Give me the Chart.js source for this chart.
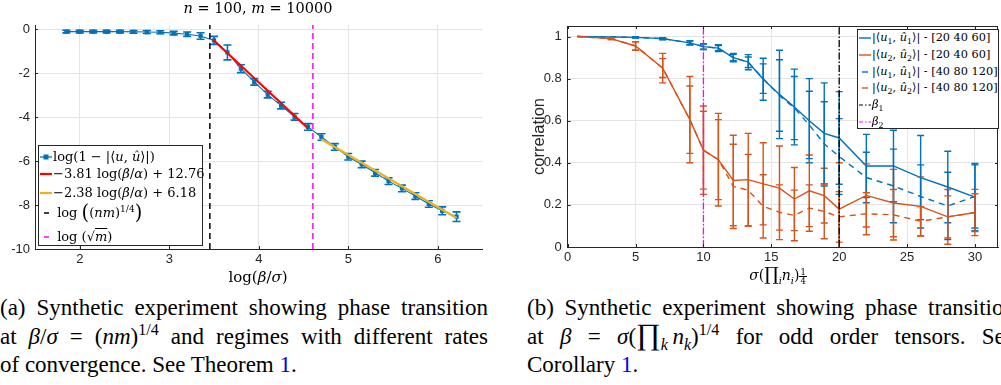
<!DOCTYPE html>
<html><head><meta charset="utf-8">
<script src="https://cdn.jsdelivr.net/npm/chart.js@4.4.1/dist/chart.umd.min.js"></script>
<style>
html,body{margin:0;padding:0;background:#fff;}
body{width:1001px;height:385px;overflow:hidden;position:relative;font-family:"Liberation Serif",serif;color:#000;}
canvas{position:absolute;top:0;}
.t{position:absolute;white-space:nowrap;font-family:"DejaVu Serif",serif;}
sub,sup{font-size:70%;line-height:0;}
.leg{position:absolute;background:#fff;border:1px solid #262626;box-sizing:border-box;font-family:"DejaVu Serif",serif;}
.row{position:absolute;left:0;height:18px;line-height:18px;white-space:nowrap;display:flex;align-items:center;}
.row svg{flex:none;}
.cap{position:absolute;width:488px;font-size:23px;line-height:28.5px;font-family:"Liberation Serif",serif;}
.cap div{height:28.5px;white-space:nowrap;}
.j{text-align:justify;text-align-last:justify;}
.lnk{color:#0000ee;}
.frac{display:inline-flex;flex-direction:column;align-items:center;font-size:60%;line-height:1;vertical-align:0.6em;}
.frac span:first-child{border-bottom:0.8px solid #000;padding:0 1px;}
.big{font-size:130%;line-height:0;}
</style></head>
<body>
<canvas id="cl" width="500" height="285" style="left:0;width:500px;height:285px"></canvas>
<canvas id="cr" width="501" height="285" style="left:500px;width:501px;height:285px"></canvas>

<!-- left chart texts -->
<div class="t" style="left:0;width:516px;text-align:center;top:-1px;font-size:14.5px;line-height:18px;"><i>n</i> = 100, <i>m</i> = 10000</div>
<div class="t" style="left:0;width:516px;text-align:center;top:268px;font-size:15px;line-height:18px;">log(<i>β</i>/<i>σ</i>)</div>

<div class="leg" style="left:38px;top:145px;width:165px;height:101px;font-size:13px;">
  <div class="row" style="top:2px"><svg width="14" height="10"><line x1="1" y1="5" x2="13" y2="5" stroke="#0072BD" stroke-width="1.3"/><rect x="4.5" y="2.5" width="5" height="5" fill="#0072BD"/></svg><span>log(1 − |⟨<i>u</i>, <i>û</i>⟩|)</span></div>
  <div class="row" style="top:19px"><svg width="14" height="10"><line x1="1" y1="5" x2="13" y2="5" stroke="#FF0000" stroke-width="2.2"/></svg><span>−3.81 log(<i>β</i>/<i>α</i>) + 12.76</span></div>
  <div class="row" style="top:38px"><svg width="14" height="10"><line x1="1" y1="5" x2="13" y2="5" stroke="#EDB120" stroke-width="2.2"/></svg><span>−2.38 log(<i>β</i>/<i>α</i>) + 6.18</span></div>
  <div class="row" style="top:58px"><svg width="14" height="10"><line x1="5" y1="5" x2="10" y2="5" stroke="#000" stroke-width="1.5"/></svg><span>&nbsp;log <span style="font-size:150%;vertical-align:-2px">(</span>(<i>nm</i>)<sup>1/4</sup><span style="font-size:150%;vertical-align:-2px">)</span></span></div>
  <div class="row" style="top:82px"><svg width="14" height="10"><line x1="5" y1="5" x2="10" y2="5" stroke="#FF00FF" stroke-width="1.5"/></svg><span>&nbsp;log (√<span style="text-decoration:overline"><i>m</i></span>)</span></div>
</div>

<!-- right chart texts -->
<div class="t" style="left:568px;width:420px;text-align:center;top:265px;font-size:14px;line-height:20px;"><i>σ</i>(<span class="big">∏</span><sub><i>i</i></sub><i>n<sub>i</sub></i>)<span class="frac"><span>1</span><span>4</span></span></div>

<div class="leg" style="left:857px;top:29px;width:142px;height:100px;font-size:11.3px;">
  <div class="row" style="top:-1px"><svg width="14" height="10"><line x1="1" y1="5" x2="13" y2="5" stroke="#0072BD" stroke-width="1.4"/></svg><span>|⟨<i>u</i><sub>1</sub>, <i>û</i><sub>1</sub>⟩| - [20 40 60]</span></div>
  <div class="row" style="top:15.5px"><svg width="14" height="10"><line x1="1" y1="5" x2="13" y2="5" stroke="#D95319" stroke-width="1.4"/></svg><span>|⟨<i>u</i><sub>2</sub>, <i>û</i><sub>2</sub>⟩| - [20 40 60]</span></div>
  <div class="row" style="top:32.5px"><svg width="14" height="10"><line x1="4" y1="5" x2="10" y2="5" stroke="#0072BD" stroke-width="1.4"/></svg><span>|⟨<i>u</i><sub>1</sub>, <i>û</i><sub>1</sub>⟩| - [40 80 120]</span></div>
  <div class="row" style="top:49px"><svg width="14" height="10"><line x1="4" y1="5" x2="10" y2="5" stroke="#D95319" stroke-width="1.4"/></svg><span>|⟨<i>u</i><sub>2</sub>, <i>û</i><sub>2</sub>⟩| - [40 80 120]</span></div>
  <div class="row" style="top:66px"><svg width="14" height="10"><line x1="1" y1="5" x2="13" y2="5" stroke="#000" stroke-width="1.2" stroke-dasharray="4 2 1.5 2"/></svg><span><i>β</i><sub>1</sub></span></div>
  <div class="row" style="top:82.5px"><svg width="14" height="10"><line x1="1" y1="5" x2="13" y2="5" stroke="#FF00FF" stroke-width="1.2" stroke-dasharray="4 2 1.5 2"/></svg><span><i>β</i><sub>2</sub></span></div>
</div>

<!-- captions -->
<div class="cap" style="left:0;top:294px;">
  <div class="j">(a) Synthetic experiment showing phase transition</div>
  <div class="j">at <i>β</i>/<i>σ</i> = (<i>nm</i>)<sup>1/4</sup> and regimes with different rates</div>
  <div>of convergence. See Theorem <span class="lnk">1</span>.</div>
</div>
<div class="cap" style="left:527px;top:294px;">
  <div class="j">(b) Synthetic experiment showing phase transition</div>
  <div class="j">at <i>β</i> = <i>σ</i>(<span class="big">∏</span><sub><i>k</i></sub>&thinsp;<i>n<sub>k</sub></i>)<sup>1/4</sup> for odd order tensors. See</div>
  <div>Corollary <span class="lnk">1</span>.</div>
</div>

<script>
// ---------- Left panel data (n = 100, m = 10000) ----------
const leftX   = [1.85,2.00,2.15,2.30,2.45,2.60,2.75,2.90,3.05,3.20,3.35,3.50,3.65,3.80,3.95,4.10,4.25,4.40,4.55,4.70,4.85,5.00,5.15,5.30,5.45,5.60,5.75,5.90,6.05,6.21];
const leftY   = [-0.10,-0.10,-0.10,-0.10,-0.10,-0.11,-0.12,-0.13,-0.17,-0.22,-0.30,-0.50,-1.05,-1.79,-2.39,-2.97,-3.47,-3.98,-4.44,-4.90,-5.35,-5.80,-6.15,-6.53,-6.91,-7.24,-7.59,-7.95,-8.26,-8.53];
const leftErr = [0.06,0.06,0.06,0.06,0.06,0.06,0.07,0.07,0.08,0.10,0.15,0.18,0.34,0.18,0.15,0.15,0.15,0.15,0.15,0.15,0.15,0.15,0.15,0.15,0.15,0.15,0.15,0.15,0.18,0.22];
const redFitX = [3.49, 4.55];
const redFitY = [-0.47, -4.50];
const yelFitX = [4.70, 6.21];
const yelFitY = [-5.00, -8.59];
const leftVLines = [3.454, 4.605];   // log((nm)^{1/4}), log(sqrt(m))
const leftYRange = [-10, 0.2];
const leftXTicks = [2,3,4,5,6];
const leftYTicks = [-10,-8,-6,-4,-2,0];

// ---------- Right panel data ----------
const rightX      = [0.7,3.2,5,7,9,10,11.1,12.2,13.3,14.4,15.6,16.7,17.8,18.9,20,22,24,26,28,30];
const blueSolid   = [1.0,0.998,0.996,0.99,0.97,0.952,0.945,0.90,0.878,0.797,0.725,0.665,0.60,0.54,0.518,0.385,0.385,0.33,0.285,0.237];
const blueSolidE  = [0,0,0.003,0.005,0.01,0.014,0.016,0.02,0.036,0.10,0.21,0.18,0.20,0.24,0.22,0.15,0.17,0.20,0.17,0.16];
const orangeSolid = [1.0,0.99,0.955,0.85,0.605,0.46,0.415,0.316,0.32,0.30,0.28,0.228,0.267,0.244,0.18,0.245,0.209,0.193,0.143,0.164];
const orangeSolidE= [0,0.004,0.02,0.07,0.205,0.21,0.22,0.215,0.22,0.195,0.20,0.15,0.17,0.13,0.22,0.15,0.16,0.14,0.13,0.11];
const blueDash    = [1.0,0.998,0.996,0.99,0.97,0.952,0.945,0.90,0.878,0.80,0.72,0.66,0.58,0.49,0.43,0.33,0.29,0.24,0.195,0.24];
const blueDashE   = [0,0,0.002,0.004,0.008,0.012,0.012,0.015,0.025,0.07,0.17,0.15,0.16,0.20,0.18,0.12,0.175,0.15,0.16,0.15];
const orangeDash  = [1.0,0.99,0.955,0.85,0.605,0.46,0.415,0.288,0.27,0.193,0.165,0.15,0.185,0.169,0.143,0.158,0.153,0.122,0.143,0.163];
const orangeDashE = [0,0.004,0.02,0.045,0.16,0.185,0.19,0.20,0.17,0.15,0.13,0.12,0.11,0.13,0.12,0.10,0.12,0.07,0.10,0.09];
const betaLines   = [20, 10];  // beta1, beta2
const rightYRange = [0, 1.05];
const rightXRange = [0, 31.7];
const rightXTicks = [0,5,10,15,20,25,30];
const rightYTicks = [0,0.2,0.4,0.6,0.8,1];

// ---------- helpers ----------
const AX = '#262626', GRID = '#e4e4e4';
const BLUE = '#0072BD', ORANGE = '#D95319', RED = '#FF0000', YEL = '#EDB120', MAG = '#FF00FF';
const pts = (xs, ys) => xs.map((x, i) => ({x, y: ys[i]}));

const errorBars = {
  id: 'errorBars',
  afterDatasetDraw(chart, args) {
    const ds = chart.data.datasets[args.index];
    if (!ds.errors) return;
    const {ctx, chartArea: a, scales: {x, y}} = chart;
    ctx.save();
    ctx.beginPath(); ctx.rect(a.left, a.top - 1, a.right - a.left, a.bottom - a.top + 1); ctx.clip();
    ctx.strokeStyle = ds.borderColor; ctx.lineWidth = ds.errWidth || 1.4; ctx.setLineDash([]);
    const cap = ds.capHalf || 3.5;
    ds.data.forEach((p, i) => {
      const e = ds.errors[i]; if (!e) return;
      const px = x.getPixelForValue(p.x);
      const y1 = y.getPixelForValue(p.y - e), y2 = y.getPixelForValue(p.y + e);
      ctx.beginPath();
      ctx.moveTo(px, y1); ctx.lineTo(px, y2);
      ctx.moveTo(px - cap, y1); ctx.lineTo(px + cap, y1);
      ctx.moveTo(px - cap, y2); ctx.lineTo(px + cap, y2);
      ctx.stroke();
    });
    ctx.restore();
  }
};

const frame = {
  id: 'frame',
  afterDraw(chart, args, opts) {
    const {ctx, chartArea: a, scales: {x, y}} = chart;
    ctx.save();
    ctx.strokeStyle = AX; ctx.lineWidth = 1;
    ctx.beginPath();
    if (opts.box) {
      ctx.moveTo(a.left, a.top + 0.5); ctx.lineTo(a.right, a.top + 0.5);
      ctx.moveTo(a.right - 0.5, a.top); ctx.lineTo(a.right - 0.5, a.bottom);
    }
    const L = 3;
    x.ticks.forEach(t => {
      const px = Math.round(x.getPixelForValue(t.value)) + 0.5;
      ctx.moveTo(px, a.bottom); ctx.lineTo(px, a.bottom - L);
      if (opts.box) { ctx.moveTo(px, a.top); ctx.lineTo(px, a.top + L); }
    });
    y.ticks.forEach(t => {
      const py = Math.round(y.getPixelForValue(t.value)) + 0.5;
      ctx.moveTo(a.left, py); ctx.lineTo(a.left + L, py);
      if (opts.box) { ctx.moveTo(a.right, py); ctx.lineTo(a.right - L, py); }
    });
    ctx.stroke();
    ctx.restore();
  }
};

const tickFont = {family: "'Liberation Sans', Arial, sans-serif", size: 13};
function fixSize(w, h) { return s => { if (w != null) s.width = w; if (h != null) s.height = h; }; }

// ---------- Left chart ----------
new Chart(document.getElementById('cl'), {
  type: 'line',
  data: {
    datasets: [
      {label: 'log(√m)', data: [{x: leftVLines[1], y: leftYRange[0]}, {x: leftVLines[1], y: leftYRange[1]}],
       borderColor: MAG, borderWidth: 1.5, borderDash: [6, 4], pointRadius: 0, order: 1},
      {label: 'log((nm)^1/4)', data: [{x: leftVLines[0], y: leftYRange[0]}, {x: leftVLines[0], y: leftYRange[1]}],
       borderColor: '#000', borderWidth: 1.5, borderDash: [6, 4], pointRadius: 0, order: 2},
      {label: '−2.38 log(β/α) + 6.18', data: pts(yelFitX, yelFitY), borderColor: YEL, borderWidth: 2.2, pointRadius: 0, order: 3},
      {label: '−3.81 log(β/α) + 12.76', data: pts(redFitX, redFitY), borderColor: RED, borderWidth: 2.2, pointRadius: 0, order: 4},
      {label: 'log(1 − |⟨u, û⟩|)', data: pts(leftX, leftY), errors: leftErr, errWidth: 1.6, capHalf: 4,
       borderColor: BLUE, backgroundColor: BLUE, borderWidth: 1.1, pointStyle: 'rect', pointRadius: 2.2, order: 5}
    ]
  },
  options: {
    responsive: false, animation: false, devicePixelRatio: 1,
    layout: {padding: {left: 0, top: 25, right: 17.5, bottom: 0}},
    plugins: {legend: {display: false}, tooltip: {enabled: false}, frame: {box: false}},
    scales: {
      x: {type: 'linear', min: 1.5, max: 6.5,
          afterFit: fixSize(null, 36),
          afterBuildTicks: s => { s.ticks = leftXTicks.map(v => ({value: v})); },
          ticks: {font: tickFont, color: AX, padding: 3, maxRotation: 0, callback: v => String(v)},
          grid: {color: GRID, drawTicks: false}, border: {color: AX, width: 1}},
      y: {type: 'linear', min: leftYRange[0], max: leftYRange[1],
          afterFit: fixSize(35, null),
          afterBuildTicks: s => { s.ticks = leftYTicks.map(v => ({value: v})); },
          ticks: {font: tickFont, color: AX, padding: 5, callback: v => String(v)},
          grid: {color: GRID, drawTicks: false}, border: {color: AX, width: 1}}
    }
  },
  plugins: [errorBars, frame]
});

// ---------- Right chart ----------
new Chart(document.getElementById('cr'), {
  type: 'line',
  data: {
    datasets: [
      {label: 'β2', data: [{x: betaLines[1], y: rightYRange[0]}, {x: betaLines[1], y: rightYRange[1]}],
       borderColor: MAG, borderWidth: 1.3, borderDash: [7, 2, 1.5, 2], pointRadius: 0, order: 1},
      {label: 'β1', data: [{x: betaLines[0], y: rightYRange[0]}, {x: betaLines[0], y: rightYRange[1]}],
       borderColor: '#000', borderWidth: 1.3, borderDash: [7, 2, 1.5, 2], pointRadius: 0, order: 2},
      {label: '|⟨u2, û2⟩| - [40 80 120]', data: pts(rightX, orangeDash), errors: orangeDashE,
       borderColor: ORANGE, borderWidth: 1.4, borderDash: [6, 5], pointRadius: 0, order: 3},
      {label: '|⟨u1, û1⟩| - [40 80 120]', data: pts(rightX, blueDash), errors: blueDashE,
       borderColor: BLUE, borderWidth: 1.4, borderDash: [6, 5], pointRadius: 0, order: 4},
      {label: '|⟨u2, û2⟩| - [20 40 60]', data: pts(rightX, orangeSolid), errors: orangeSolidE,
       borderColor: ORANGE, borderWidth: 1.4, pointRadius: 0, order: 5},
      {label: '|⟨u1, û1⟩| - [20 40 60]', data: pts(rightX, blueSolid), errors: blueSolidE,
       borderColor: BLUE, borderWidth: 1.4, pointRadius: 0, order: 6}
    ]
  },
  options: {
    responsive: false, animation: false, devicePixelRatio: 1,
    layout: {padding: {left: 0, top: 26, right: 3, bottom: 0}},
    plugins: {legend: {display: false}, tooltip: {enabled: false}, frame: {box: true}},
    scales: {
      x: {type: 'linear', min: rightXRange[0], max: rightXRange[1],
          afterFit: fixSize(null, 38),
          afterBuildTicks: s => { s.ticks = rightXTicks.map(v => ({value: v})); },
          ticks: {font: tickFont, color: AX, padding: 3, maxRotation: 0, callback: v => String(v)},
          grid: {color: GRID, drawTicks: false}, border: {color: AX, width: 1}},
      y: {type: 'linear', min: rightYRange[0], max: rightYRange[1],
          afterFit: fixSize(67.7, null),
          afterBuildTicks: s => { s.ticks = rightYTicks.map(v => ({value: v})); },
          title: {display: true, text: 'correlation', color: AX,
                  font: {family: "'Liberation Sans', Arial, sans-serif", size: 16.5, lineHeight: 1.2},
                  padding: {top: 30, bottom: 0}},
          ticks: {font: tickFont, color: AX, padding: 6, callback: v => String(Number(v.toFixed(1)))},
          grid: {color: GRID, drawTicks: false}, border: {color: AX, width: 1}}
    }
  },
  plugins: [errorBars, frame]
});
</script>
</body></html>
